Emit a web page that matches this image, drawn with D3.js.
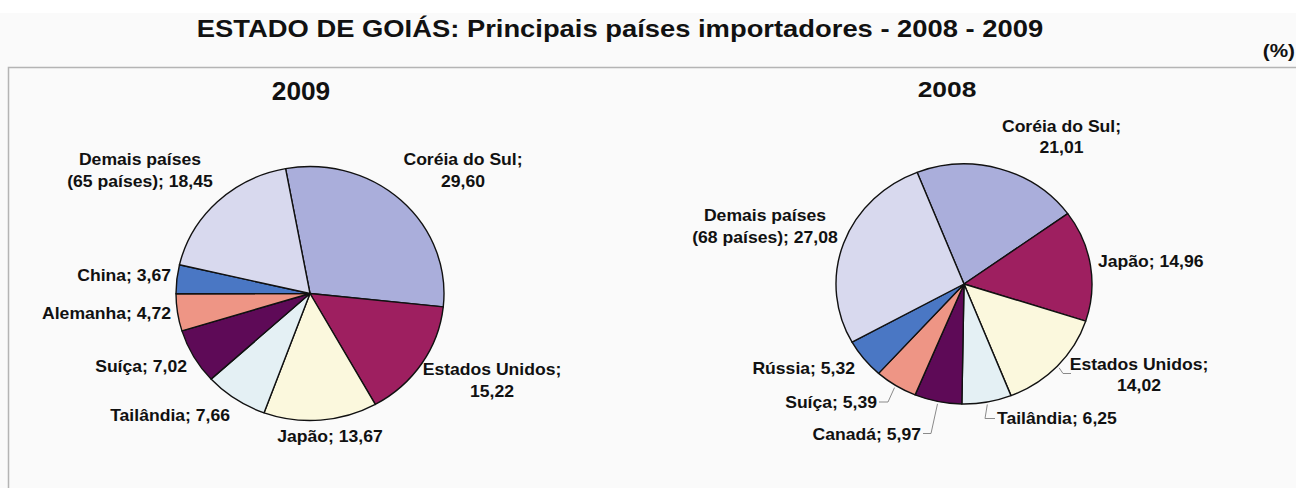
<!DOCTYPE html>
<html>
<head>
<meta charset="utf-8">
<script src="https://cdn.jsdelivr.net/npm/d3@7"></script>
<style>
body{margin:0;background:#fff}
text{font-family:"Liberation Sans",Arial,sans-serif;font-weight:bold;fill:#111}
</style>
</head>
<body>
<svg id="drawing_region"></svg>
<script>
// dados (%)
const paises2009 = ["Coréia do Sul", "Estados Unidos", "Japão", "Tailândia", "Suíça", "Alemanha", "China", "Demais países"]
const valores2009 = [29.60, 15.22, 13.67, 7.66, 7.02, 4.72, 3.67, 18.45]
const demais2009 = "(65 países)"

const paises2008 = ["Coréia do Sul", "Japão", "Estados Unidos", "Tailândia", "Canadá", "Suíça", "Rússia", "Demais países"]
const valores2008 = [21.01, 14.96, 14.02, 6.25, 5.97, 5.39, 5.32, 27.08]
const demais2008 = "(68 países)"

const titulo = "ESTADO DE GOIÁS: Principais países importadores - 2008 - 2009"
const unidade = "(%)"

const cores = ["#aaaedb", "#9e1f60", "#fbf8dd", "#e4f0f4", "#5e0a57", "#ee9585", "#4a77c4", "#d8d9ee"]

const fmt = v => d3.format(".2f")(v).replace(".", ",")

class PieChart{
    constructor(config, names, values, demais){
        this.config = config
        this.names = names
        this.values = values
        this.demais = demais
        this.render()
    }

    labelLines(i){
        let self = this
        const name = self.names[i], v = fmt(self.values[i])
        if (name === "Demais países") return [name, `${self.demais}; ${v}`]
        if (self.config.labels[i].lines === 2) return [name + ";", v]
        return [`${name}; ${v}`]
    }

    render(){
        let self = this
        const c = self.config
        const g = c.parent.append('g')

        // título do ano
        g.append('text')
            .attr('transform', `translate(${c.title.x},${c.title.y}) scale(${c.title.sx},1)`)
            .attr('text-anchor', 'middle')
            .attr('font-size', c.title.size)
            .text(c.year)

        const start = c.startAngle * Math.PI / 180
        const pie = d3.pie().sort(null).value(d => d)
            .startAngle(start).endAngle(start + 2 * Math.PI)
        const arcs = pie(self.values)
        const arc = d3.arc().innerRadius(0).outerRadius(c.ry)

        // fatias
        g.append('g')
            .attr('transform', `translate(${c.cx},${c.cy}) scale(${c.rx / c.ry},1)`)
            .selectAll('path').data(arcs).enter()
            .append('path')
            .attr('d', arc)
            .attr('fill', (d, i) => cores[i])
            .attr('stroke', '#111')
            .attr('stroke-width', 1.4)
            .attr('stroke-linejoin', 'round')
            .attr('vector-effect', 'non-scaling-stroke')

        // linhas de chamada
        arcs.forEach((d, i) => {
            const lab = c.labels[i]
            if (!lab.leader) return
            const a = (d.startAngle + d.endAngle) / 2
            const ex = c.cx + c.rx * 1.02 * Math.sin(a)
            const ey = c.cy - c.ry * 1.02 * Math.cos(a)
            const [x0, y0, x1] = lab.leader
            g.append('path')
                .attr('d', `M${x0},${y0}L${x1},${y0}L${ex},${ey}`)
                .attr('fill', 'none')
                .attr('stroke', '#8a8a8a')
                .attr('stroke-width', 1)
        })

        // rótulos
        arcs.forEach((d, i) => {
            const lab = c.labels[i]
            self.labelLines(i).forEach((t, k) => {
                g.append('text')
                    .attr('transform', `translate(${lab.x},${lab.y + k * c.lineGap}) scale(${c.labelSx},1)`)
                    .attr('text-anchor', lab.anchor)
                    .attr('font-size', c.labelSize)
                    .text(t)
            })
        })
    }
}

const W = 1296, H = 488
const svg = d3.select('#drawing_region').attr('width', W).attr('height', H)

svg.append('rect').attr('width', W).attr('height', H).attr('fill', '#fff')
svg.append('rect').attr('y', 13).attr('width', W).attr('height', H - 13).attr('fill', '#fafafa')

// moldura
svg.append('path')
    .attr('d', `M8.5,${H}V67.5H${W}`)
    .attr('fill', 'none')
    .attr('stroke', '#b4b4b4')
    .attr('stroke-width', 1.5)

svg.append('text')
    .attr('transform', 'translate(620,36.5) scale(1.19,1)')
    .attr('text-anchor', 'middle')
    .attr('font-size', 23)
    .text(titulo)

svg.append('text')
    .attr('transform', 'translate(1295,56.5) scale(1.15,1)')
    .attr('text-anchor', 'end')
    .attr('font-size', 18)
    .text(unidade)

new PieChart({
    parent: svg,
    year: "2009",
    title: {x: 301, y: 100, size: 25, sx: 1.05},
    cx: 310, cy: 293.5, rx: 134, ry: 127,
    startAngle: -10.5,
    labelSize: 16, labelSx: 1.1, lineGap: 21.5,
    labels: [
        {x: 463, y: 165, anchor: 'middle', lines: 2},
        {x: 492, y: 375, anchor: 'middle', lines: 2},
        {x: 330, y: 442, anchor: 'middle', lines: 1},
        {x: 230, y: 421, anchor: 'end', lines: 1},
        {x: 187, y: 372, anchor: 'end', lines: 1},
        {x: 171, y: 319, anchor: 'end', lines: 1},
        {x: 171, y: 281, anchor: 'end', lines: 1},
        {x: 140, y: 165, anchor: 'middle', lines: 2}
    ]
}, paises2009, valores2009, demais2009)

new PieChart({
    parent: svg,
    year: "2008",
    title: {x: 947, y: 97, size: 22, sx: 1.2},
    cx: 964, cy: 284, rx: 128, ry: 120,
    startAngle: -21.5,
    labelSize: 16, labelSx: 1.1, lineGap: 21.5,
    labels: [
        {x: 1061.5, y: 131.5, anchor: 'middle', lines: 2},
        {x: 1098, y: 266.5, anchor: 'start', lines: 1},
        {x: 1139, y: 369.5, anchor: 'middle', lines: 2, leader: [1071, 373.5, 1063]},
        {x: 997, y: 424, anchor: 'start', lines: 1, leader: [995, 418.5, 985]},
        {x: 921, y: 440, anchor: 'end', lines: 1, leader: [923, 433.5, 931]},
        {x: 877, y: 408, anchor: 'end', lines: 1, leader: [879, 402, 888]},
        {x: 855, y: 374, anchor: 'end', lines: 1},
        {x: 765, y: 221, anchor: 'middle', lines: 2}
    ]
}, paises2008, valores2008, demais2008)
</script>
</body>
</html>
